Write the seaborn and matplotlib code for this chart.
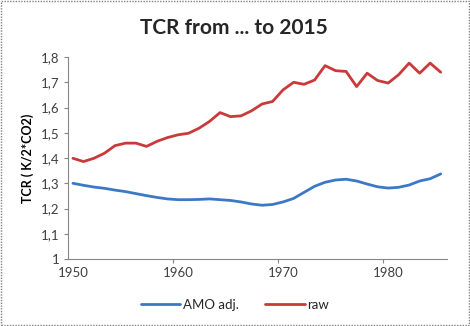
import numpy as np
import pandas as pd
import matplotlib
matplotlib.use("Agg")
import matplotlib.pyplot as plt
import seaborn as sns
from matplotlib.patches import Rectangle
from matplotlib.ticker import FixedLocator, FuncFormatter

years = list(range(1950, 1986))
amo_adj = [1.300, 1.292, 1.285, 1.280, 1.273, 1.267, 1.259, 1.251, 1.244, 1.238,
           1.235, 1.235, 1.236, 1.238, 1.235, 1.232, 1.226, 1.218, 1.213, 1.216,
           1.226, 1.240, 1.264, 1.288, 1.304, 1.313, 1.316, 1.309, 1.297, 1.286,
           1.281, 1.284, 1.293, 1.309, 1.318, 1.337]
raw = [1.399, 1.386, 1.399, 1.419, 1.449, 1.459, 1.459, 1.446, 1.466, 1.481,
       1.492, 1.498, 1.518, 1.545, 1.580, 1.564, 1.567, 1.587, 1.614, 1.624,
       1.670, 1.700, 1.692, 1.709, 1.766, 1.746, 1.743, 1.683, 1.736, 1.707,
       1.697, 1.730, 1.776, 1.736, 1.776, 1.740]
series_names = ["AMO adj.", "raw"]
colors = ["#3D78C6", "#CA3A3A"]
x_labels = [1950, 1960, 1970, 1980]
y_ticks = [1.0, 1.1, 1.2, 1.3, 1.4, 1.5, 1.6, 1.7, 1.8]
title = "TCR from ... to 2015"
ylabel = "TCR ( K/2*CO2)"

df = pd.DataFrame({
    "year": years * 2,
    "value": amo_adj + raw,
    "series": [series_names[0]] * len(years) + [series_names[1]] * len(years),
})

sns.set_style("white")
plt.rcParams["font.family"] = ["Lato", "DejaVu Sans"]

fig = plt.figure(figsize=(4.7, 3.26), dpi=100)
ax = fig.add_axes([0.144, 0.2055, 0.807, 0.6195])

sns.lineplot(data=df, x="year", y="value", hue="series", palette=colors,
             linewidth=2.0, ax=ax, legend=True)

ax.set_xlim(1949.5, 1985.6)
ax.set_ylim(1.0, 1.8)
ax.xaxis.set_major_locator(FixedLocator(x_labels))
ax.xaxis.set_minor_locator(FixedLocator([1959.5, 1969.5, 1979.5]))
ax.yaxis.set_major_locator(FixedLocator(y_ticks))

def yfmt(v, pos):
    if abs(v - 1.0) < 1e-9:
        return "1"
    return f"{v:.1f}".replace(".", ",")

ax.yaxis.set_major_formatter(FuncFormatter(yfmt))
ax.tick_params(axis="x", which="major", length=0, labelsize=9.5, colors="#404040", pad=6)
ax.tick_params(axis="x", which="minor", length=3, color="#868686", width=0.8, direction="out", bottom=True)
ax.tick_params(axis="y", which="major", length=3, color="#868686", width=0.8, direction="out",
               labelsize=9.5, labelcolor="#404040", left=True, pad=3)

for s in ["top", "right"]:
    ax.spines[s].set_visible(False)
for s in ["left", "bottom"]:
    ax.spines[s].set_color("#868686")
    ax.spines[s].set_linewidth(0.8)

ax.set_xlabel("")
ax.set_ylabel(ylabel, fontsize=9, fontweight="bold", color="#000000")
ax.yaxis.set_label_coords(-0.09, 0.5)
fig.text(0.498, 0.915, title, ha="center", va="center", fontsize=15, fontweight="bold")

handles, labels = ax.get_legend_handles_labels()
ax.legend(handles, labels, loc="center", bbox_to_anchor=(0.5, 0.065),
          bbox_transform=fig.transFigure, ncol=2, frameon=False, fontsize=9.5,
          handlelength=3.0, handletextpad=0.2, columnspacing=2.0)

fig.patches.append(Rectangle((0.003, 0.004), 0.994, 0.992, transform=fig.transFigure,
                             fill=False, edgecolor="#808080", linestyle=(0, (1, 1)),
                             linewidth=1.0))

fig.savefig("out.png", dpi=100)
